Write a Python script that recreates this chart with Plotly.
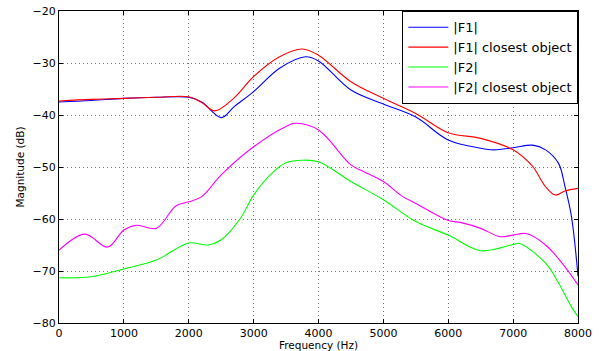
import plotly.graph_objects as go

f1_freq = [0, 500, 1000, 1500, 2000, 2200, 2500, 2700, 3000, 3400, 3800, 4000, 4500, 5000, 5500, 6000, 6500, 6700, 7000, 7300, 7500, 7700, 7800, 7900, 8000]
f1_vals = [-37.5, -37.2, -36.8, -36.6, -36.6, -37.5, -40.5, -38.4, -35.5, -31.0, -28.8, -29.6, -35.2, -37.9, -40.4, -44.8, -46.4, -46.7, -46.3, -45.8, -46.7, -49.3, -53.8, -59.6, -71.0]

f1c_freq = [0, 500, 1000, 1500, 2000, 2200, 2400, 2700, 3000, 3400, 3750, 4000, 4500, 5000, 5500, 6000, 6500, 7000, 7300, 7500, 7650, 7800, 8000]
f1c_vals = [-37.3, -37.0, -36.8, -36.6, -36.5, -37.6, -39.2, -36.7, -32.6, -28.8, -27.3, -28.5, -33.6, -36.8, -39.7, -43.4, -44.5, -46.7, -49.9, -53.8, -55.4, -54.6, -54.1]

f2_freq = [0, 500, 1000, 1500, 2000, 2300, 2500, 2800, 3000, 3300, 3500, 3750, 4000, 4500, 5000, 5500, 6000, 6500, 7000, 7100, 7500, 7700, 7900, 8000]
f2_vals = [-71.3, -71.1, -69.6, -67.9, -64.6, -65.0, -64.0, -59.8, -55.4, -51.0, -49.2, -48.7, -49.0, -52.8, -56.3, -60.5, -63.1, -66.1, -64.9, -64.7, -68.5, -72.3, -76.9, -78.8]

f2c_freq = [0, 400, 750, 1000, 1200, 1500, 1800, 2000, 2200, 2500, 3000, 3500, 3650, 4000, 4500, 4700, 5000, 5300, 5500, 6000, 6200, 6500, 6800, 7000, 7200, 7500, 7800, 8000]
f2c_vals = [-66.0, -62.9, -65.4, -62.1, -61.2, -61.8, -57.5, -56.7, -55.7, -51.5, -46.1, -42.2, -41.6, -42.9, -49.6, -50.9, -52.8, -55.7, -57.0, -60.3, -60.7, -61.8, -63.4, -63.1, -62.8, -65.0, -69.2, -72.7]

names = ["|F1|", "|F1| closest object", "|F2|", "|F2| closest object"]
colors = ["#0000ff", "#ff0000", "#00ff00", "#ff00ff"]

x_ticks = [0, 1000, 2000, 3000, 4000, 5000, 6000, 7000, 8000]
y_ticks = [-80, -70, -60, -50, -40, -30, -20]

FONT = "DejaVu Sans, Liberation Sans, sans-serif"

fig = go.Figure()
for fx, fy, nm, c in zip([f1_freq, f1c_freq, f2_freq, f2c_freq],
                         [f1_vals, f1c_vals, f2_vals, f2c_vals], names, colors):
    fig.add_trace(go.Scatter(x=fx, y=fy, name=nm, mode="lines",
                             line=dict(color=c, width=1.1, shape="spline", smoothing=1.0)))

axis_common = dict(showline=True, mirror="ticks", linecolor="black", linewidth=1.3,
                   ticks="inside", ticklen=4, tickcolor="black", tickwidth=1,
                   showgrid=True, gridcolor="#777777", griddash="1px,3px", gridwidth=1,
                   zeroline=False, automargin=False,
                   tickfont=dict(size=11, color="black", family=FONT))

fig.update_xaxes(range=[0, 8000], tickvals=x_ticks, ticktext=[str(v) for v in x_ticks],
                 title=dict(text="Frequency (Hz)", font=dict(size=10.5, color="black", family=FONT), standoff=3),
                 **axis_common)
fig.update_yaxes(range=[-80, -20], tickvals=y_ticks, ticktext=["\u2212" + str(abs(v)) for v in y_ticks],
                 title=dict(text="Magnitude (dB)", font=dict(size=10.5, color="black", family=FONT), standoff=5),
                 **axis_common)

fig.update_layout(
    width=600, height=351,
    margin=dict(l=59, r=22, t=11, b=28),
    paper_bgcolor="white", plot_bgcolor="white",
    font=dict(family=FONT, color="black"),
    legend=dict(x=1, y=1, xanchor="right", yanchor="top", bgcolor="white",
                bordercolor="black", borderwidth=1.3, font=dict(size=13, family=FONT),
                tracegroupgap=0, itemwidth=40),
    showlegend=True,
)

fig.write_html("out.html", config={"displayModeBar": False},
               post_script="document.body.style.margin='0';document.body.style.padding='0';")
